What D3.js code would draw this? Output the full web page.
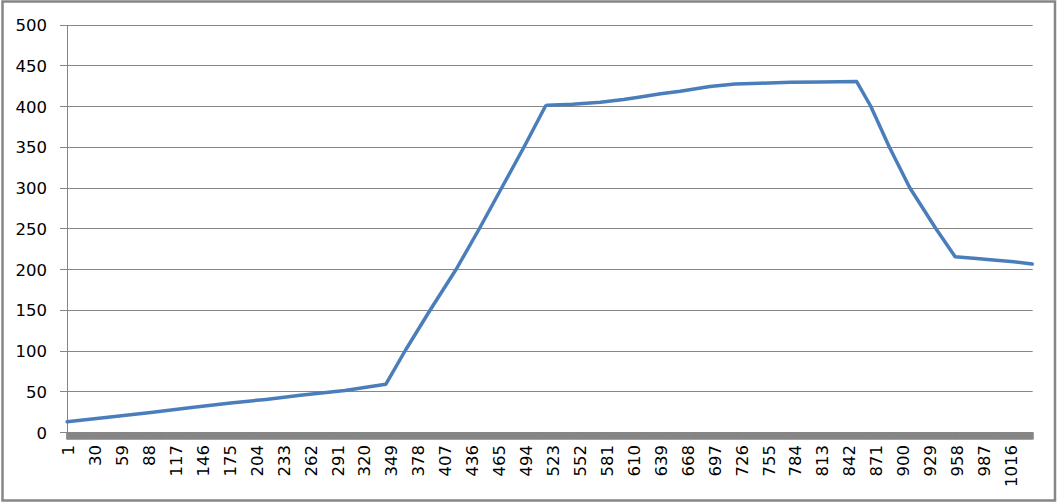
<!DOCTYPE html>
<html>
<head>
<meta charset="utf-8">
<script src="https://cdn.jsdelivr.net/npm/d3@7/dist/d3.min.js"></script>
<style>
  html, body { margin: 0; padding: 0; background: #ffffff; }
  svg { display: block; }
  text { font-family: "DejaVu Sans", Verdana, sans-serif; fill: #000; }
</style>
</head>
<body>
<svg id="chart" width="1058" height="504"></svg>
<script>
// ---- data ----
const categoryCount = 1040;
const categories = d3.range(1, categoryCount + 1);
const tickLabels = [1, 30, 59, 88, 117, 146, 175, 204, 233, 262, 291, 320, 349, 378, 407, 436, 465, 494, 523, 552, 581, 610, 639, 668, 697, 726, 755, 784, 813, 842, 871, 900, 929, 958, 987, 1016];
const yTicks = [0, 50, 100, 150, 200, 250, 300, 350, 400, 450, 500];
const pointCats   = [1,   45,  91,  135, 177,  215, 252, 300, 344,  365, 392, 420, 445, 469, 493, 516, 518, 545, 575,   600, 618, 640, 661, 693, 720, 747, 780, 812,   851, 866, 886, 908, 936, 957, 980, 998, 1020, 1040];
const pointValues = [12.5, 18, 24,  30,  35.6, 40,  45,  51,  58.5, 100, 150, 200, 250, 300, 350, 400, 401, 402, 404.5, 408, 411, 415, 418, 424, 427, 428, 429, 429.5, 430, 400, 350, 300, 250, 215, 213, 211, 209, 206];

// ---- layout ----
const svg = d3.select("#chart");
const plotLeft = 66.7, plotRight = 1032.7, plotTop = 24.5, plotBottom = 432;
const grey = "#868686";

const x = d3.scaleBand().domain(categories).range([plotLeft, plotRight]).padding(0);
const y = d3.scaleLinear().domain([0, 500]).range([plotBottom, plotTop]);
const cx = c => x(c) + x.bandwidth() / 2;

// chart border
svg.append("rect")
  .attr("x", 2.5).attr("y", 1.5).attr("width", 1052.5).attr("height", 499)
  .attr("fill", "none").attr("stroke", grey).attr("stroke-width", 2.5);

// horizontal gridlines + y tick marks
svg.append("g").selectAll("line").data(yTicks).join("line")
  .attr("x1", plotLeft - 6.7).attr("x2", plotRight)
  .attr("y1", d => Math.round(y(d)) + 0.5).attr("y2", d => Math.round(y(d)) + 0.5)
  .attr("stroke", grey).attr("stroke-width", 1);

// y axis line
svg.append("line")
  .attr("x1", Math.round(plotLeft) + 0.5).attr("x2", Math.round(plotLeft) + 0.5)
  .attr("y1", Math.round(plotTop)).attr("y2", plotBottom)
  .attr("stroke", grey).attr("stroke-width", 1);

// y labels
svg.append("g").selectAll("text").data(yTicks).join("text")
  .attr("x", 47).attr("y", d => y(d) + 1)
  .attr("text-anchor", "end").attr("dominant-baseline", "central")
  .style("font-size", "16.5px")
  .text(d => d);

// x axis: dense tick marks (one per category) merge into a band
const xAxis = d3.axisBottom(x).tickValues(categories).tickSize(7.5).tickFormat("");
const gx = svg.append("g").attr("transform", `translate(0,${plotBottom})`).call(xAxis);
gx.select(".domain").attr("stroke", grey);
gx.selectAll(".tick line").attr("stroke", grey).attr("stroke-width", 2);

// x labels (rotated)
svg.append("g").selectAll("text").data(tickLabels).join("text")
  .attr("transform", d => `translate(${cx(d) + 1.5},445) rotate(-90)`)
  .attr("text-anchor", "end").attr("dominant-baseline", "central")
  .style("font-size", "16.5px")
  .text(d => d);

// the line
const line = d3.line().x((d, i) => cx(pointCats[i])).y(d => y(d));
svg.append("path")
  .datum(pointValues)
  .attr("d", line)
  .attr("fill", "none")
  .attr("stroke", "#4A7EBB")
  .attr("stroke-width", 3.5)
  .attr("stroke-linejoin", "round")
  .attr("stroke-linecap", "round");
</script>
</body>
</html>
